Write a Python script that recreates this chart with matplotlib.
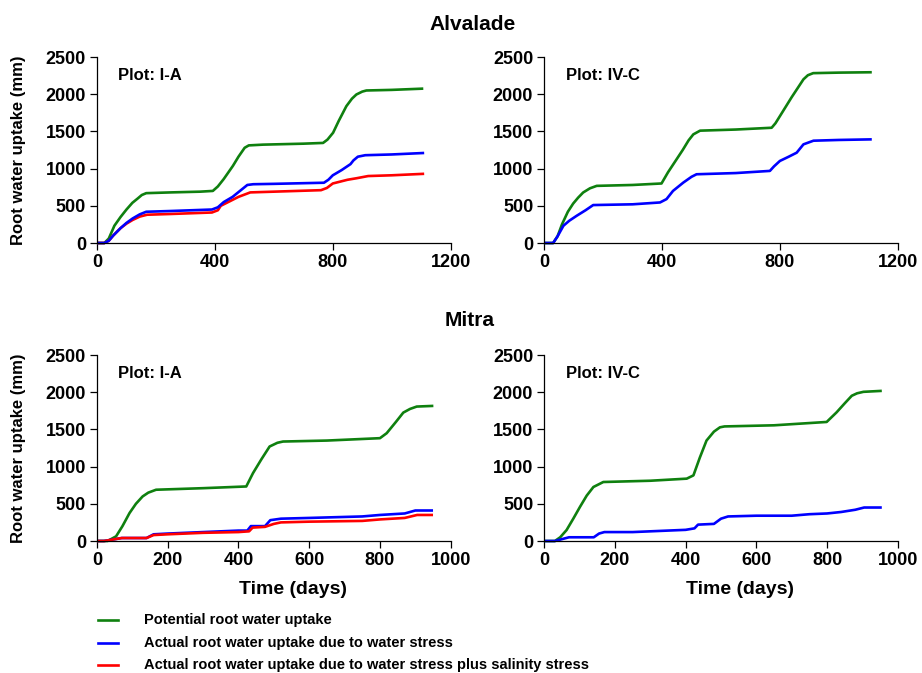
import matplotlib
matplotlib.use("Agg")
import matplotlib.pyplot as plt

plt.rcParams['font.family'] = ['Liberation Sans', 'DejaVu Sans']
plt.rcParams['font.weight'] = 'bold'

# ---------------- data ----------------
# Alvalade, Plot I-A
alv_ia_pot_x = [0, 25, 40, 59, 80, 100, 120, 138, 152, 167, 250, 350, 393, 410, 430, 461, 480, 501, 515, 563, 700, 767, 782, 801, 820, 846, 865, 880, 900, 914, 1000, 1107]
alv_ia_pot_y = [0, 0, 60, 232, 350, 450, 540, 598, 645, 670, 680, 690, 700, 760, 860, 1036, 1160, 1280, 1312, 1322, 1335, 1345, 1390, 1482, 1640, 1839, 1940, 1996, 2035, 2050, 2058, 2075]
alv_ia_ws_x = [0, 25, 40, 55, 80, 100, 121, 145, 167, 250, 390, 410, 430, 460, 485, 510, 530, 600, 770, 785, 800, 830, 860, 870, 885, 910, 1000, 1110]
alv_ia_ws_y = [0, 0, 30, 100, 200, 270, 330, 385, 420, 430, 450, 480, 550, 620, 700, 780, 790, 795, 810, 850, 910, 980, 1060, 1110, 1160, 1180, 1190, 1210]
alv_ia_wss_x = [0, 25, 40, 55, 80, 100, 121, 145, 170, 250, 390, 410, 420, 450, 480, 520, 600, 760, 780, 800, 850, 880, 920, 1000, 1110]
alv_ia_wss_y = [0, 0, 30, 100, 200, 260, 310, 355, 380, 390, 410, 440, 500, 560, 620, 680, 690, 710, 740, 800, 850, 870, 900, 910, 930]

# Alvalade, Plot IV-C
alv_ivc_pot_x = [0, 30, 45, 60, 80, 98, 115, 132, 155, 178, 300, 398, 420, 445, 470, 490, 506, 529, 650, 772, 785, 800, 840, 880, 895, 913, 1000, 1112]
alv_ivc_pot_y = [0, 0, 90, 250, 420, 530, 610, 679, 735, 768, 780, 800, 950, 1100, 1250, 1380, 1460, 1510, 1525, 1549, 1610, 1705, 1960, 2200, 2255, 2283, 2290, 2295]
alv_ivc_ws_x = [0, 30, 45, 65, 85, 110, 140, 166, 300, 393, 415, 437, 472, 500, 517, 650, 766, 780, 800, 830, 857, 880, 914, 1000, 1112]
alv_ivc_ws_y = [0, 0, 90, 232, 300, 366, 440, 510, 520, 545, 590, 700, 812, 890, 924, 940, 969, 1030, 1103, 1160, 1214, 1326, 1375, 1385, 1393]

# Mitra, Plot I-A
mit_ia_pot_x = [0, 30, 54, 72, 92, 110, 129, 145, 167, 300, 422, 441, 465, 488, 510, 526, 650, 800, 819, 845, 866, 885, 904, 951]
mit_ia_pot_y = [0, 0, 63, 200, 376, 500, 599, 650, 689, 710, 733, 912, 1100, 1270, 1320, 1337, 1350, 1382, 1449, 1600, 1726, 1775, 1807, 1816]
mit_ia_ws_x = [0, 20, 70, 140, 160, 200, 300, 400, 425, 435, 475, 490, 520, 600, 750, 800, 870, 900, 950]
mit_ia_ws_y = [0, 0, 40, 40, 90, 100, 120, 140, 140, 200, 200, 280, 300, 310, 330, 350, 370, 410, 410]
mit_ia_wss_x = [0, 20, 70, 140, 160, 200, 300, 400, 430, 440, 475, 500, 520, 600, 750, 800, 870, 905, 950]
mit_ia_wss_y = [0, 0, 40, 40, 80, 90, 110, 120, 130, 180, 190, 230, 250, 260, 270, 290, 310, 350, 350]

# Mitra, Plot IV-C
mit_ivc_pot_x = [0, 30, 45, 63, 82, 101, 120, 139, 167, 300, 403, 422, 440, 459, 480, 497, 510, 650, 799, 827, 850, 870, 885, 903, 955]
mit_ivc_pot_y = [0, 0, 50, 147, 300, 459, 610, 726, 793, 810, 838, 882, 1120, 1350, 1470, 1528, 1540, 1555, 1600, 1729, 1850, 1952, 1985, 2005, 2018]
mit_ivc_ws_x = [0, 30, 70, 140, 155, 170, 250, 300, 400, 425, 435, 480, 500, 520, 600, 700, 750, 800, 840, 880, 905, 955]
mit_ivc_ws_y = [0, 0, 50, 50, 100, 120, 120, 130, 150, 170, 220, 230, 300, 330, 340, 340, 360, 370, 390, 420, 450, 450]

site_titles = ["Alvalade", "Mitra"]
plot_labels = ["Plot: I-A", "Plot: IV-C"]
legend_labels = ["Potential root water uptake",
                 "Actual root water uptake due to water stress",
                 "Actual root water uptake due to water stress plus salinity stress"]
y_ticks = [0, 500, 1000, 1500, 2000, 2500]
x_ticks_top = [0, 400, 800, 1200]
x_ticks_bottom = [0, 200, 400, 600, 800, 1000]

GREEN = '#0f800f'
BLUE = '#0000ff'
RED = '#ff0000'
LW = 1.9

fig = plt.figure(figsize=(9.22, 6.73), dpi=100)
W, H = 922.0, 673.0

def ax_at(x0, x1, ytop, ybot):
    return fig.add_axes([x0 / W, 1 - ybot / H, (x1 - x0) / W, (ybot - ytop) / H])

axes = [
    ax_at(97, 450.7, 57, 243),
    ax_at(544.3, 897.7, 57, 243),
    ax_at(97, 450.7, 355, 541),
    ax_at(544.3, 897.7, 355, 541),
]

series = [
    [(alv_ia_pot_x, alv_ia_pot_y, GREEN), (alv_ia_wss_x, alv_ia_wss_y, RED), (alv_ia_ws_x, alv_ia_ws_y, BLUE)],
    [(alv_ivc_pot_x, alv_ivc_pot_y, GREEN), (alv_ivc_ws_x, alv_ivc_ws_y, BLUE)],
    [(mit_ia_pot_x, mit_ia_pot_y, GREEN), (mit_ia_ws_x, mit_ia_ws_y, BLUE), (mit_ia_wss_x, mit_ia_wss_y, RED)],
    [(mit_ivc_pot_x, mit_ivc_pot_y, GREEN), (mit_ivc_ws_x, mit_ivc_ws_y, BLUE)],
]

for i, ax in enumerate(axes):
    for xs, ys, c in series[i]:
        ax.plot(xs, ys, color=c, lw=LW, solid_joinstyle='round', solid_capstyle='butt', clip_on=False)
    ax.set_ylim(0, 2500)
    ax.set_yticks(y_ticks)
    if i < 2:
        ax.set_xlim(0, 1200)
        ax.set_xticks(x_ticks_top)
    else:
        ax.set_xlim(0, 1000)
        ax.set_xticks(x_ticks_bottom)
        ax.set_xlabel("Time (days)", fontsize=14, fontweight='bold')
        ax.xaxis.set_label_coords(0.555, -0.215)
    for s in ['top', 'right']:
        ax.spines[s].set_visible(False)
    for s in ['left', 'bottom']:
        ax.spines[s].set_linewidth(0.9)
    ax.tick_params(direction='out', length=5, width=0.9, labelsize=13, pad=3)
    for lab in ax.get_xticklabels() + ax.get_yticklabels():
        lab.set_fontweight('bold')
    if i % 2 == 0:
        ax.set_ylabel("Root water uptake (mm)", fontsize=12, fontweight='bold')
        ax.yaxis.set_label_coords(-0.2, 0.5)
    ax.text(0.06, 0.9, plot_labels[i % 2], transform=ax.transAxes,
            fontsize=12, fontweight='bold', va='center', ha='left')

fig.text(473 / W, 1 - 24 / H, site_titles[0], fontsize=15, fontweight='bold', ha='center', va='center')
fig.text(470 / W, 1 - 320 / H, site_titles[1], fontsize=15, fontweight='bold', ha='center', va='center')

# legend drawn manually at the bottom
leg_colors = [GREEN, BLUE, RED]
leg_y = [620, 643, 665]
for lab, c, yy in zip(legend_labels, leg_colors, leg_y):
    yf = 1 - yy / H
    fig.add_artist(plt.Line2D([98 / W, 118 / W], [yf, yf], color=c, lw=LW, transform=fig.transFigure))
    fig.text(144 / W, yf, lab, fontsize=10.5, fontweight='bold', ha='left', va='center')

fig.savefig("out.png", dpi=100)
